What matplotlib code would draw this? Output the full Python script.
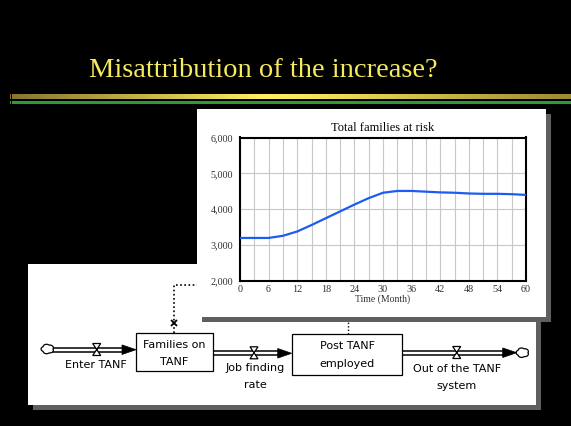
import matplotlib
matplotlib.use('Agg')
import matplotlib.pyplot as plt
import numpy as np
from matplotlib.patches import Rectangle, Polygon
from matplotlib.colors import LinearSegmentedColormap
from matplotlib.ticker import MultipleLocator, FuncFormatter, FixedLocator

# ---------------- data ----------------
slide_title = "Misattribution of the increase?"
chart_title = "Total families at risk"
x_label = "Time (Month)"
months = [0, 3, 6, 9, 12, 15, 18, 21, 24, 27, 30, 33, 36, 39, 42, 45, 48, 51, 54, 57, 60]
families = [3200, 3200, 3200, 3260, 3380, 3560, 3750, 3940, 4130, 4310, 4460,
            4510, 4510, 4490, 4470, 4460, 4440, 4430, 4430, 4420, 4400]
x_ticks = [0, 6, 12, 18, 24, 30, 36, 42, 48, 54, 60]
y_ticks = [2000, 3000, 4000, 5000, 6000]
stock_labels = ["Families on\nTANF", "Post TANF\nemployed"]
flow_labels = ["Enter TANF", "Job finding\nrate", "Out of the TANF\nsystem"]

W, H = 571, 426
fig = plt.figure(figsize=(W / 100, H / 100), dpi=100)
fig.patch.set_facecolor('black')

bg = fig.add_axes([0, 0, 1, 1], zorder=0)
bg.set_facecolor('black')

# title rule lines
cmap = LinearSegmentedColormap.from_list(
    'gold', [(0.0, '#857530'), (0.45, '#fff060'), (0.55, '#f4e458'), (1.0, '#9a8a35')])
grad = np.linspace(0, 1, 300).reshape(1, -1)
bg.imshow(grad, cmap=cmap, extent=(10, W, 99, 94), aspect='auto',
          interpolation='bilinear', zorder=1)
bg.add_patch(Rectangle((10, 100.7), W - 10, 3.3, color='#2f9a30', lw=0, zorder=1))
bg.add_patch(Rectangle((11, 93), 1, 12, color='black', lw=0, zorder=2))

bg.text(263, 77, slide_title, ha='center', va='baseline', fontsize=20.5,
        family='Liberation Serif', color='#F6EA5E', zorder=3)

# lower panel (diagram)
bg.add_patch(Rectangle((33, 269), 507.7, 141, color='#5f5f5f', lw=0, zorder=1))
bg.add_patch(Rectangle((28, 264), 507.7, 141, color='white', lw=0, zorder=2))


def cloud(cx, cy, w=12, h=9):
    t = np.linspace(0, 2 * np.pi, 300)
    r = 1 + 0.18 * np.abs(np.sin(2.5 * t))
    xs = cx + w / 2 * r * np.cos(t) / 1.1
    ys = cy + h / 2 * r * np.sin(t) / 1.1
    bg.add_patch(Polygon(np.column_stack([xs, ys]), closed=True, fc='white',
                         ec='black', lw=0.9, zorder=5))


def pipe(x0, x1, y, arrow_len=14):
    for dy in (-2, 2):
        bg.plot([x0, x1 - arrow_len + 2], [y + dy, y + dy], color='black', lw=1.1, zorder=4)
    bg.add_patch(Polygon([(x1 - arrow_len, y - 4.8), (x1, y), (x1 - arrow_len, y + 4.8)],
                         closed=True, fc='black', ec='black', lw=0.5, zorder=5))


def valve(x, y, w=8, h=12):
    pts = [(x - w / 2, y - h / 2), (x + w / 2, y - h / 2),
           (x - w / 2, y + h / 2), (x + w / 2, y + h / 2)]
    bg.add_patch(Polygon(pts, closed=True, fc='white', ec='black', lw=0.9, zorder=6))


def box(x0, y0, x1, y1):
    bg.add_patch(Rectangle((x0, y0), x1 - x0, y1 - y0, fc='white', ec='black',
                           lw=0.9, zorder=5))


def label(x, y, text, gap=17):
    for i, line in enumerate(text.split('\n')):
        bg.text(x, y + i * gap, line, ha='center', va='center', fontsize=8,
                family='DejaVu Sans', color='black', zorder=7)


cloud(47.5, 349)
cloud(522.5, 352.7)
pipe(53, 136, 349.7)
pipe(213, 291.7, 353.3)
pipe(402, 516.7, 352.7)
valve(96.7, 349.5)
valve(254, 352.8)
valve(456.7, 352.5)
box(136, 333, 213, 371)
box(291.7, 334, 402.3, 375)

label(174.5, 345, stock_labels[0])
label(347, 346, stock_labels[1], gap=18)
label(96, 365, flow_labels[0])
label(255, 368, flow_labels[1], gap=16.5)
label(456.7, 368.5, flow_labels[2], gap=17.5)

# information links (dotted)
bg.plot([174, 174, 200], [333, 285, 285], color='black', lw=1.2, ls=(0, (1, 1.5)), zorder=4)
bg.plot([174], [323], marker='x', color='black', ms=4, mew=1.3, zorder=5)
bg.plot([347.7, 347.7], [334, 315], color='black', lw=1.0, ls=(0, (1, 1.5)), zorder=4)

# chart panel
bg.add_patch(Rectangle((201.7, 114.3), 349, 207.4, color='#5f5f5f', lw=0, zorder=10))
bg.add_patch(Rectangle((196.7, 109.3), 349, 207.4, color='white', lw=0, zorder=11))

bg.set_xlim(0, W)
bg.set_ylim(H, 0)
bg.axis('off')

# ---------------- chart ----------------
ax = fig.add_axes([240 / W, 1 - 281 / H, 286 / W, 143.5 / H], zorder=5)
ax.set_facecolor('white')
ax.plot(months, families, color='#1c5cf0', lw=1.6, zorder=3)
ax.set_xlim(0, 60)
ax.set_ylim(2000, 6000)
ax.xaxis.set_major_locator(FixedLocator(x_ticks))
ax.xaxis.set_minor_locator(MultipleLocator(3))
ax.yaxis.set_major_locator(FixedLocator(y_ticks))
ax.yaxis.set_major_formatter(FuncFormatter(lambda v, p: f'{int(v):,}'))
ax.grid(True, which='both', axis='x', color='#c8c8c8', lw=0.8)
ax.grid(True, which='major', axis='y', color='#c8c8c8', lw=0.8)
ax.tick_params(which='both', length=0, labelsize=7.3, labelcolor='#333333')
ax.tick_params(axis='x', pad=3)
ax.tick_params(axis='y', pad=5)
for lab in ax.get_xticklabels() + ax.get_yticklabels():
    lab.set_family('Liberation Serif')
for sp in ax.spines.values():
    sp.set_color('black')
    sp.set_linewidth(1.5)
ax.set_title(chart_title, fontsize=9, family='Liberation Serif', pad=5)
ax.set_xlabel(x_label, fontsize=7, family='Liberation Serif', color='#333333', labelpad=0.5)

fig.savefig('out.png', dpi=100, facecolor='black')
